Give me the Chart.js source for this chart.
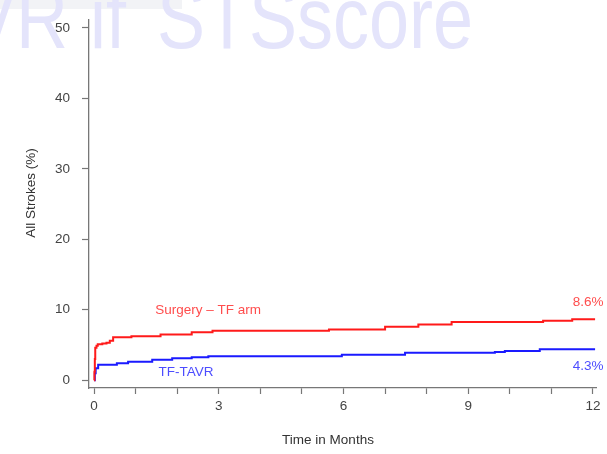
<!DOCTYPE html>
<html><head><meta charset="utf-8">
<script src="https://cdn.jsdelivr.net/npm/chart.js@4/dist/chart.umd.min.js"></script>
<style>html,body{margin:0;padding:0;background:#fff;}#wrap{width:607px;height:454px;position:relative;}</style>
</head><body><div id="wrap"><canvas id="c" width="607" height="454"></canvas></div>
<script>
// ---- data (months, cumulative % strokes) ----
const surgeryTimes  = [0, 0.01, 0.02, 0.03, 0.06, 0.09, 0.2, 0.3, 0.38, 0.46, 0.9, 1.6, 2.35, 2.85, 5.65, 7.0, 7.8, 8.6, 10.8, 11.5, 12.05];
const surgeryValues = [0, 1.2, 3.0, 4.6, 4.9, 5.1, 5.2, 5.3, 5.6, 6.1, 6.25, 6.5, 6.8, 7.0, 7.2, 7.6, 7.9, 8.25, 8.45, 8.65, 8.65];
const tavrTimes  = [0, 0.02, 0.04, 0.1, 0.55, 0.82, 1.4, 1.88, 2.35, 2.75, 5.96, 7.48, 9.64, 9.88, 10.72, 12.05];
const tavrValues = [0, 1.0, 1.7, 2.2, 2.4, 2.6, 2.9, 3.1, 3.25, 3.4, 3.6, 3.9, 4.0, 4.15, 4.4, 4.4];
const monthTicks = [0,1,2,3,4,5,6,7,8,9,10,11,12];
const xTickLabels = {0:'0',3:'3',6:'6',9:'9',12:'12'};
const yTickValues = [0,10,20,30,40,50];
const seriesNames = ['Surgery – TF arm', 'TF-TAVR'];
const endLabels = ['8.6%', '4.3%'];
const xTitle = 'Time in Months';
const yTitle = 'All Strokes (%)';
const watermark = ['VR', 'if', 'STSscore'];

const FONT = '"Liberation Sans", Arial, sans-serif';
const toPts = (t, v) => t.map((x, i) => ({x, y: v[i]}));

const decor = {
  id: 'decor',
  beforeDraw(chart) {
    const c = chart.ctx;
    c.save();
    c.fillStyle = '#fff';
    c.fillRect(0, 0, chart.width, chart.height);
    c.fillStyle = '#f2f3f6';
    c.fillRect(0, 0, 182, 9);
    c.restore();
  },
  afterDraw(chart) {
    const c = chart.ctx, xs = chart.scales.x, ys = chart.scales.y;
    c.save();
    // series labels
    c.font = '13.5px ' + FONT;
    c.textBaseline = 'middle';
    c.textAlign = 'left';
    c.fillStyle = '#ff4d4d';
    c.fillText(seriesNames[0], xs.getPixelForValue(1.47), ys.getPixelForValue(9.9));
    c.fillStyle = '#4d4dff';
    c.fillText(seriesNames[1], xs.getPixelForValue(1.55), ys.getPixelForValue(1.1));
    c.textAlign = 'right';
    c.fillStyle = '#ff4d4d';
    c.fillText(endLabels[0], xs.getPixelForValue(12.25), ys.getPixelForValue(11.1));
    c.fillStyle = '#4d4dff';
    c.fillText(endLabels[1], xs.getPixelForValue(12.25), ys.getPixelForValue(1.95));
    // axis titles
    c.fillStyle = '#333';
    c.textAlign = 'center';
    c.fillText(xTitle, 328, 440);
    c.translate(31, 193);
    c.rotate(-Math.PI / 2);
    c.fillText(yTitle, 0, 0);
    c.restore();
    // watermark
    c.save();
    c.fillStyle = 'rgb(228,228,251)';
    c.font = '72px ' + FONT;
    c.textBaseline = 'alphabetic';
    c.translate(0, 48);
    c.scale(1, 1.2);
    c.textAlign = 'right';
    c.fillText(watermark[0], 68, 0);
    c.textAlign = 'left';
    c.fillText(watermark[1], 90, 0);
    c.fillText(watermark[2], 157, 0);
    c.restore();
  }
};

new Chart(document.getElementById('c'), {
  type: 'scatter',
  data: {
    datasets: [
      { label: seriesNames[0], data: toPts(surgeryTimes, surgeryValues), showLine: true, stepped: 'before',
        borderColor: '#ff1a1a', borderWidth: 2, pointRadius: 0, fill: false },
      { label: seriesNames[1], data: toPts(tavrTimes, tavrValues), showLine: true, stepped: 'before',
        borderColor: '#1a1aff', borderWidth: 2, pointRadius: 0, fill: false }
    ]
  },
  options: {
    responsive: false,
    devicePixelRatio: 1,
    animation: false,
    layout: { padding: { top: 12, right: 11, left: 0, bottom: 0 } },
    plugins: { legend: { display: false }, tooltip: { enabled: false }, title: { display: false } },
    scales: {
      x: {
        type: 'linear', min: -5/41.583, max: 12 + 3/41.583,
        afterBuildTicks: s => { s.ticks = monthTicks.map(v => ({value: v})); },
        afterFit: s => { s.height = 66; },
        ticks: { autoSkip: false, maxRotation: 0, padding: 4, color: '#444',
                 font: { family: FONT, size: 13.5 },
                 callback: v => (xTickLabels[v] !== undefined ? xTickLabels[v] : '') },
        grid: { drawOnChartArea: false, drawTicks: true, tickLength: 6, tickColor: '#777', tickWidth: 1.2 },
        border: { display: true, color: '#777', width: 1.3 }
      },
      y: {
        type: 'linear', min: -8/7.2, max: 50 + 8/7.2,
        afterBuildTicks: s => { s.ticks = yTickValues.map(v => ({value: v})); },
        afterFit: s => { s.width = 89; },
        ticks: { autoSkip: false, padding: 12, color: '#444', font: { family: FONT, size: 13.5 } },
        grid: { drawOnChartArea: false, drawTicks: true, tickLength: 7, tickColor: '#777', tickWidth: 1.2 },
        border: { display: true, color: '#777', width: 1.3 }
      }
    }
  },
  plugins: [decor]
});
</script></body></html>
